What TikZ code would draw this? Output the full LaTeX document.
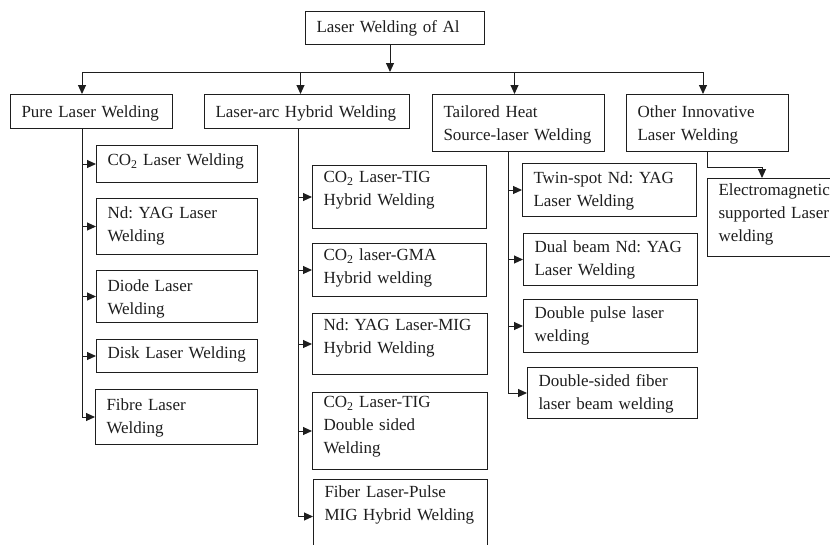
\documentclass[tikz,border=0pt]{standalone}
\usepackage{fontspec}
\setmainfont{Liberation Serif}
\usepackage{tikz}
\usetikzlibrary{arrows.meta,calc,positioning}
\definecolor{tinta}{HTML}{1E1E1E}
\frenchspacing

\begin{document}
\begin{tikzpicture}[x=1pt,y=-1pt,>={Triangle[length=9pt,width=8pt]},line width=1pt,
    box/.style n args={3}{draw=tinta,anchor=north west,align=left,inner xsep=11pt,inner ysep=0pt,
      text width=#1-22pt,text height=#3,text depth=#2-#3,
      font=\fontsize{17pt}{23pt}\selectfont,text=tinta}]
        \useasboundingbox (0,0) rectangle (830,544);
        \clip (0,0) rectangle (830,544);
        \node[box={179}{33}{21}] (top) at (305,11) {Laser Welding of Al};
        \node[box={162}{34}{23}] (pure) at (10,94) {Pure Laser Welding};
        \node[box={205}{34}{23}] (hybrid) at (204,94) {Laser-arc Hybrid Welding};
        \node[box={172}{57}{23}] (tailored) at (432,94) {Tailored Heat\\Source-laser Welding};
        \node[box={162}{57}{23}] (other) at (626,94) {Other Innovative\\Laser Welding};
        \node[box={161}{37}{20}] (p1) at (96,145) {CO\textsubscript{2} Laser Welding};
        \node[box={161}{56}{20}] (p2) at (96,198) {Nd: YAG Laser\\Welding};
        \node[box={161}{52}{21}] (p3) at (96,270) {Diode Laser\\Welding};
        \node[box={161}{33}{19}] (p4) at (96,339) {Disk Laser Welding};
        \node[box={162}{55}{21}] (p5) at (95,389) {Fibre Laser\\Welding};
        \node[box={174}{63}{17}] (h1) at (312,165) {CO\textsubscript{2} Laser-TIG\\Hybrid Welding};
        \node[box={174}{53}{17}] (h2) at (312,243) {CO\textsubscript{2} laser-GMA\\Hybrid welding};
        \node[box={175}{61}{17}] (h3) at (312,313) {Nd: YAG Laser-MIG\\Hybrid Welding};
        \node[box={175}{77}{15}] (h4) at (312,392) {CO\textsubscript{2} Laser-TIG\\Double sided\\Welding};
        \node[box={174}{74}{18}] (h5) at (313,479) {Fiber Laser-Pulse\\MIG Hybrid Welding};
        \node[box={174}{53}{20}] (t1) at (522,163) {Twin-spot Nd: YAG\\Laser Welding};
        \node[box={174}{52}{19}] (t2) at (523,233) {Dual beam Nd: YAG\\Laser Welding};
        \node[box={174}{53}{19}] (t3) at (523,299) {Double pulse laser\\welding};
        \node[box={170}{51}{19}] (t4) at (527,367) {Double-sided fiber\\laser beam welding};
        \node[box={140}{78}{17}] (e1) at (707,178) {Electromagnetic\\supported Laser\\welding};
        \coordinate (busL) at (82,72);
        \coordinate (busR) at (703,72);
        \draw[tinta] (busL) -- (busR);
        \draw[->,tinta] ([xshift=-5pt]top.south) -- ([xshift=-5pt]top.south |- busL);
        \draw[->,tinta] (busL) -- (busL |- pure.north);
        \draw[->,tinta] ([xshift=-6.5pt]hybrid.north |- busL) -- ([xshift=-6.5pt]hybrid.north);
        \draw[->,tinta] ([xshift=-4pt]tailored.north |- busL) -- ([xshift=-4pt]tailored.north);
        \draw[->,tinta] (busR) -- (busR |- other.north);
        \draw[->,tinta] ([xshift=-9pt]pure.south) |- (p5.west);
        \foreach \k in {p1,p2,p3,p4}{\draw[->,tinta] ([xshift=-9pt]pure.south |- \k.west) -- (\k.west);}
        \draw[->,tinta] ([xshift=-8.5pt]hybrid.south) |- (h5.west);
        \foreach \k in {h1,h2,h3,h4}{\draw[->,tinta] ([xshift=-8.5pt]hybrid.south |- \k.west) -- (\k.west);}
        \draw[->,tinta] ([xshift=-10pt]tailored.south) |- (t4.west);
        \foreach \k in {t1,t2,t3}{\draw[->,tinta] ([xshift=-10pt]tailored.south |- \k.west) -- (\k.west);}
        \draw[->,tinta] (other.south) -- ++(0,15) -| ([xshift=55pt]e1.north west);
      \end{tikzpicture}
\end{document}
